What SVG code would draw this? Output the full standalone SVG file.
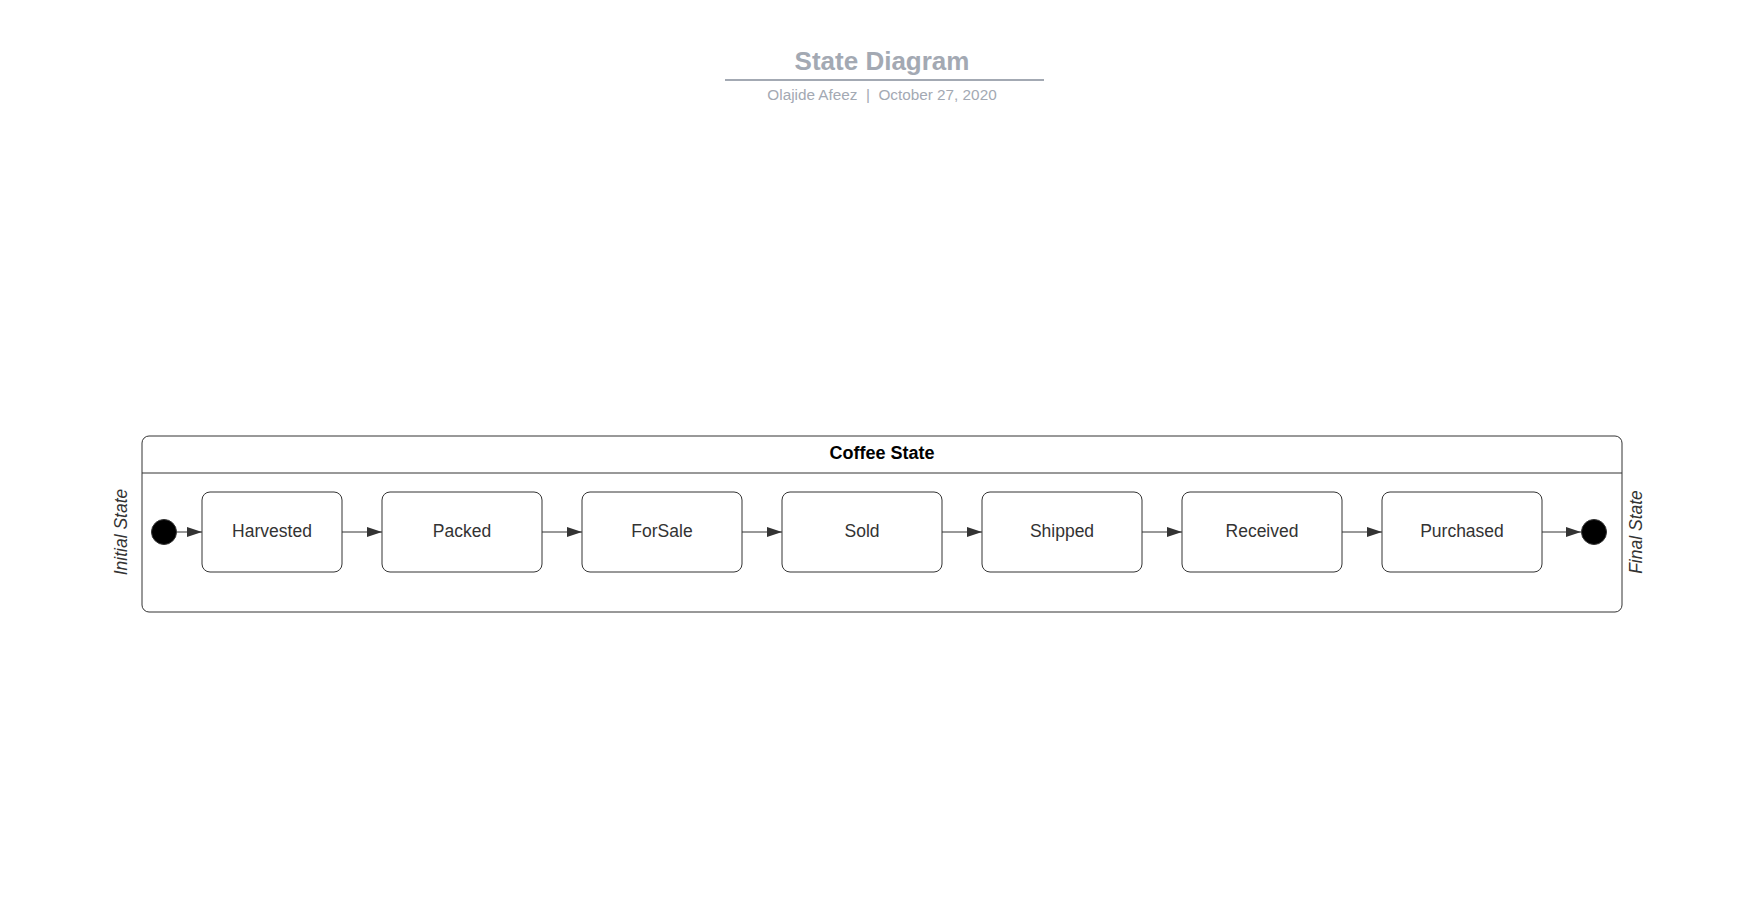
<svg xmlns="http://www.w3.org/2000/svg" width="1760" height="897" viewBox="0 0 1760 897">
<style>
.box{fill:#fff;stroke:#333;stroke-width:1}
.lbl{font-family:"Liberation Sans",Arial,sans-serif;font-size:17.5px;fill:#333;text-anchor:middle}
.side{font-family:"Liberation Sans",Arial,sans-serif;font-size:17.5px;font-style:italic;fill:#333;text-anchor:middle}
.conn{stroke:#333;stroke-width:1;fill:none;marker-end:url(#ah)}
</style>
<defs>
<marker id="ah" markerUnits="userSpaceOnUse" markerWidth="16" markerHeight="12" refX="15" refY="5" orient="auto">
<path d="M0,0 L15,5 L0,10 Z" fill="#333"/>
</marker>
</defs>
<rect width="1760" height="897" fill="#fff"/>
<g id="title">
<text x="882" y="69.5" font-family="Liberation Sans,Arial,sans-serif" font-size="26" font-weight="bold" fill="#a3a9b3" text-anchor="middle">State Diagram</text>
<line x1="725" y1="80" x2="1044" y2="80" stroke="#a3a9b3" stroke-width="2"/>
<text x="882" y="100" font-family="Liberation Sans,Arial,sans-serif" font-size="15.3" fill="#a3a9b3" text-anchor="middle" xml:space="preserve">Olajide Afeez  |  October 27, 2020</text>
</g>
<g id="coffee-state">
<rect x="142" y="436" width="1480" height="176" rx="7" fill="#fff" stroke="#333" stroke-width="1"/>
<line x1="142" y1="473" x2="1622" y2="473" stroke="#333" stroke-width="1"/>
<text x="882" y="459" font-family="Liberation Sans,Arial,sans-serif" font-size="18" font-weight="bold" fill="#000" text-anchor="middle">Coffee State</text>
</g>
<g id="initial-label"><text class="side" transform="translate(127,532) rotate(-90)">Initial State</text></g>
<g id="final-label"><text class="side" transform="translate(1642,532) rotate(-90)">Final State</text></g>
<g id="initial"><circle cx="164" cy="532" r="12.5" fill="#000" stroke="#333" stroke-width="1"/></g>
<g id="final"><circle cx="1594" cy="532" r="12.5" fill="#000" stroke="#333" stroke-width="1"/></g>
<g id="harvested"><rect class="box" x="202" y="492" width="140" height="80" rx="8"/><text class="lbl" x="272" y="537">Harvested</text></g>
<g id="packed"><rect class="box" x="382" y="492" width="160" height="80" rx="8"/><text class="lbl" x="462" y="537">Packed</text></g>
<g id="forsale"><rect class="box" x="582" y="492" width="160" height="80" rx="8"/><text class="lbl" x="662" y="537">ForSale</text></g>
<g id="sold"><rect class="box" x="782" y="492" width="160" height="80" rx="8"/><text class="lbl" x="862" y="537">Sold</text></g>
<g id="shipped"><rect class="box" x="982" y="492" width="160" height="80" rx="8"/><text class="lbl" x="1062" y="537">Shipped</text></g>
<g id="received"><rect class="box" x="1182" y="492" width="160" height="80" rx="8"/><text class="lbl" x="1262" y="537">Received</text></g>
<g id="purchased"><rect class="box" x="1382" y="492" width="160" height="80" rx="8"/><text class="lbl" x="1462" y="537">Purchased</text></g>
<g id="connectors">
<line class="conn" x1="177" y1="532" x2="202" y2="532"/>
<line class="conn" x1="342" y1="532" x2="382" y2="532"/>
<line class="conn" x1="542" y1="532" x2="582" y2="532"/>
<line class="conn" x1="742" y1="532" x2="782" y2="532"/>
<line class="conn" x1="942" y1="532" x2="982" y2="532"/>
<line class="conn" x1="1142" y1="532" x2="1182" y2="532"/>
<line class="conn" x1="1342" y1="532" x2="1382" y2="532"/>
<line class="conn" x1="1542" y1="532" x2="1581" y2="532"/>
</g>
</svg>
